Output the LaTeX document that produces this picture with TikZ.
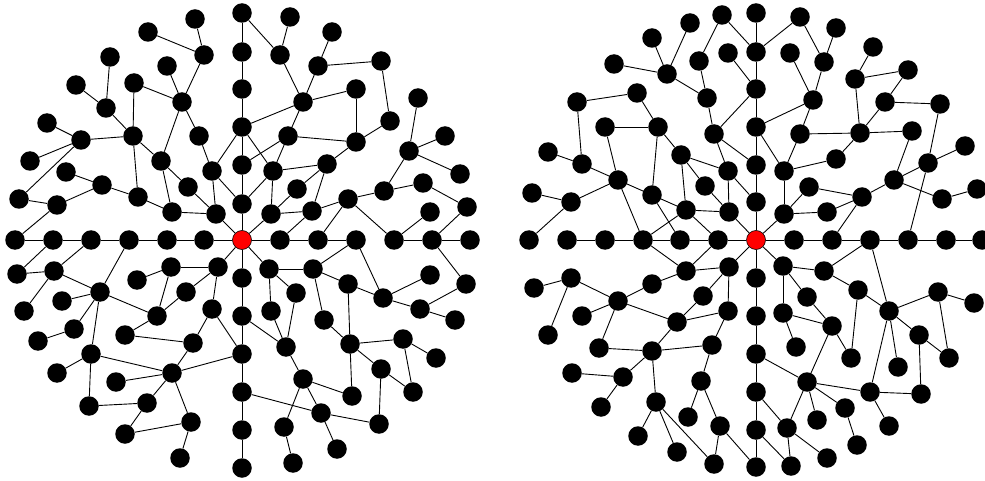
\documentclass[tikz,border=0pt]{standalone}
\usetikzlibrary{backgrounds}
\tikzset{
  dot/.style={circle, fill=black, inner sep=0pt, minimum size=19.5pt},
  rootdot/.style={circle, fill=red, draw=black, line width=0.6pt, inner sep=0pt, minimum size=19pt},
  edge/.style={draw=black, line width=0.9pt}
}
\begin{document}
\begin{tikzpicture}[x=1pt, y=-1pt]
\useasboundingbox (0,0) rectangle (985,481);
% ---------------- left tree ----------------
\node[rootdot] (L242y240) at (242,240) {};
\foreach \x/\y in {
 242/13, 242/52, 242/89, 242/127, 242/165, 242/204,
 242/278, 242/316, 242/354, 242/392, 242/430, 242/468,
 15/240, 53/240, 91/240, 129/240, 167/240, 204/240,
 280/240, 318/240, 356/240, 394/240, 432/240, 470/240,
 195/19, 148/32, 204/55, 110/57, 167/66, 134/83, 76/85, 182/102, 106/108, 47/123, 133/136, 199/136,
 81/140, 30/161, 161/161, 212/171, 66/172, 102/185, 188/187, 138/197, 19/199, 57/205, 172/212, 216/214,
 290/17, 332/32, 280/55, 318/66, 381/61, 303/102, 356/89, 418/98, 390/121, 288/136, 356/142, 445/136,
 409/151, 273/171, 327/164, 460/174, 297/189, 423/183, 384/191, 348/199, 271/214, 312/211, 430/212, 467/207,
 17/274, 54/271, 137/280, 171/267, 218/267, 100/292, 62/301, 186/292, 24/311, 157/316, 212/309, 74/329,
 38/341, 125/335, 193/343, 91/354, 57/373, 172/373, 116/382, 89/406, 147/403, 191/422, 125/434, 180/458,
 269/269, 313/269, 296/293, 348/284, 430/275, 466/284, 383/298, 420/309, 271/311, 324/320, 455/320, 286/347,
 350/344, 403/339, 436/358, 381/369, 303/379, 352/396, 413/392, 321/413, 379/424, 284/427, 337/449, 293/463}
 \node[dot] (L\x y\y) at (\x,\y) {};
% ---------------- right tree ----------------
\node[rootdot] (R756y240) at (756,240) {};
\foreach \x/\y in {
 756/13, 756/52, 756/89, 756/127, 756/165, 756/202,
 756/278, 756/316, 756/354, 756/392, 756/430, 756/467,
 529/240, 567/240, 605/240, 643/240, 680/240, 718/240,
 794/240, 832/240, 870/240, 908/240, 946/240, 982/240,
 722/15, 690/23, 652/38, 728/53, 699/61, 614/64, 667/74, 637/93, 577/102, 707/98, 605/127, 658/127,
 714/134, 548/152, 681/155, 582/164, 728/171, 618/180, 705/186, 532/193, 571/202, 652/195, 686/210, 729/212,
 800/17, 836/28, 790/53, 824/62, 873/47, 908/70, 855/79, 813/100, 885/102, 940/104, 800/134, 860/133,
 912/131, 965/146, 784/171, 836/159, 928/163, 894/180, 809/187, 862/197, 942/199, 977/189, 784/214, 827/212,
 534/288, 571/278, 686/271, 729/267, 652/284, 618/301, 582/316, 703/296, 677/322, 728/311, 548/335, 599/348,
 652/351, 712/345, 572/373, 623/377, 701/381, 656/402, 601/407, 688/417, 720/426, 638/436, 677/452, 714/464,
 783/266, 824/271, 858/290, 807/297, 938/292, 974/303, 889/311, 783/313, 832/326, 919/335, 796/347, 851/358,
 949/358, 898/367, 807/382, 870/392, 921/394, 845/408, 817/420, 889/426, 787/428, 857/445, 827/458, 791/466}
 \node[dot] (R\x y\y) at (\x,\y) {};
% ---------------- edges ----------------
\begin{pgfonlayer}{background}
\foreach \a/\b/\c/\d in {
 242/240/242/204, 242/204/242/165, 242/165/242/127, 242/127/242/89, 242/89/242/52, 242/52/242/13,
 242/240/242/278, 242/278/242/316, 242/316/242/354, 242/354/242/392, 242/392/242/430, 242/430/242/468,
 242/240/204/240, 204/240/167/240, 167/240/129/240, 129/240/91/240, 91/240/53/240, 53/240/15/240,
 242/240/280/240, 280/240/318/240, 318/240/356/240, 394/240/432/240, 432/240/470/240,
 195/19/204/55, 148/32/204/55, 204/55/182/102, 167/66/182/102, 134/83/182/102, 182/102/161/161,
 182/102/199/136, 199/136/212/171, 212/171/242/127, 212/171/216/214, 212/171/242/204, 216/214/242/240,
 172/212/216/214, 188/187/216/214, 161/161/188/187, 161/161/172/212, 138/197/172/212, 133/136/138/197,
 133/136/161/161, 134/83/133/136, 110/57/106/108, 76/85/106/108, 106/108/133/136, 81/140/133/136,
 47/123/81/140, 30/161/81/140, 81/140/19/199, 19/199/57/205, 57/205/15/240, 57/205/102/185,
 66/172/102/185, 102/185/138/197,
 242/13/280/55, 290/17/280/55, 280/55/303/102, 332/32/318/66, 318/66/381/61, 318/66/303/102,
 381/61/390/121, 303/102/356/89, 303/102/242/127, 303/102/288/136, 356/89/356/142, 390/121/356/142,
 288/136/356/142, 242/127/273/171, 288/136/242/165, 288/136/273/171, 356/142/327/164, 273/171/327/164,
 327/164/312/211, 327/164/297/189, 297/189/271/214, 273/171/271/214, 242/204/273/171, 271/214/242/240,
 271/214/312/211, 312/211/280/240, 312/211/348/199, 348/199/318/240, 348/199/384/191, 348/199/394/240,
 384/191/409/151, 384/191/423/183, 409/151/418/98, 409/151/445/136, 409/151/460/174, 423/183/467/207,
 467/207/432/240, 430/212/394/240,
 53/240/17/274, 17/274/54/271, 54/271/91/240, 54/271/24/311, 54/271/100/292, 100/292/129/240,
 62/301/100/292, 100/292/74/329, 74/329/38/341, 100/292/91/354, 100/292/157/316, 137/280/171/267,
 171/267/218/267, 171/267/157/316, 186/292/218/267, 186/292/157/316, 218/267/242/240, 218/267/212/309,
 212/309/193/343, 212/309/242/354, 157/316/125/335, 125/335/193/343, 193/343/172/373, 91/354/57/373,
 91/354/172/373, 91/354/89/406, 172/373/242/354, 116/382/172/373, 172/373/147/403, 172/373/191/422,
 89/406/147/403, 147/403/125/434, 125/434/191/422, 191/422/180/458,
 242/240/269/269, 269/269/313/269, 313/269/356/240, 313/269/348/284, 313/269/324/320, 348/284/383/298,
 356/240/383/298, 383/298/430/275, 383/298/420/309, 420/309/466/284, 466/284/432/240, 420/309/455/320,
 269/269/271/311, 269/269/296/293, 271/311/286/347, 296/293/286/347, 242/316/286/347, 286/347/303/379,
 324/320/350/344, 348/284/350/344, 350/344/403/339, 350/344/381/369, 350/344/352/396, 403/339/436/358,
 403/339/413/392, 381/369/413/392, 381/369/379/424, 303/379/352/396, 303/379/284/427, 303/379/321/413,
 242/392/321/413, 321/413/379/424, 321/413/337/449, 284/427/293/463}
 \draw[edge] (L\a y\b) -- (L\c y\d);
\foreach \a/\b/\c/\d in {
 756/240/756/202, 756/202/756/165, 756/165/756/127, 756/127/756/89, 756/89/756/52, 756/52/756/13,
 756/240/756/278, 756/278/756/316, 756/316/756/354, 756/354/756/392, 756/392/756/430, 756/430/756/467,
 756/240/718/240, 718/240/680/240, 680/240/643/240, 643/240/605/240, 605/240/567/240,
 756/240/794/240, 794/240/832/240, 832/240/870/240, 870/240/908/240, 908/240/946/240, 946/240/982/240,
 722/15/756/52, 722/15/699/61, 690/23/667/74, 652/38/667/74, 614/64/667/74, 667/74/707/98,
 699/61/707/98, 728/53/756/89, 707/98/714/134, 756/89/714/134, 714/134/728/171, 714/134/756/165,
 637/93/577/102, 637/93/658/127, 577/102/582/164, 605/127/658/127, 605/127/618/180, 658/127/652/195,
 658/127/681/155, 681/155/728/171, 681/155/705/186, 681/155/686/210, 548/152/582/164, 582/164/618/180,
 618/180/571/202, 618/180/652/195, 618/180/643/240, 532/193/571/202, 571/202/529/240, 652/195/686/210,
 652/195/680/240, 686/210/643/240, 686/210/729/212, 686/210/718/240, 705/186/729/212, 728/171/729/212,
 728/171/756/202, 729/212/756/240,
 756/52/800/17, 800/17/824/62, 836/28/824/62, 824/62/813/100, 790/53/813/100, 813/100/756/127,
 813/100/800/134, 800/134/860/133, 800/134/784/171, 756/127/784/171, 873/47/855/79, 855/79/908/70,
 908/70/885/102, 855/79/860/133, 885/102/860/133, 885/102/940/104, 860/133/912/131, 860/133/836/159,
 836/159/784/171, 784/171/784/214, 809/187/784/214, 809/187/862/197, 784/214/827/212, 827/212/862/197,
 862/197/832/240, 862/197/894/180, 894/180/912/131, 894/180/928/163, 894/180/942/199, 942/199/977/189,
 928/163/965/146, 928/163/940/104, 928/163/908/240, 784/214/756/240,
 643/240/686/271, 718/240/686/271, 686/271/729/267, 729/267/756/240, 686/271/652/284, 652/284/618/301,
 571/278/618/301, 534/288/571/278, 571/278/548/335, 582/316/618/301, 618/301/677/322, 618/301/599/348,
 729/267/703/296, 729/267/728/311, 703/296/677/322, 677/322/728/311, 677/322/652/351, 599/348/652/351,
 652/351/712/345, 728/311/712/345, 712/345/701/381, 652/351/623/377, 572/373/623/377, 623/377/601/407,
 652/351/656/402, 656/402/638/436, 656/402/677/452, 656/402/714/464, 701/381/688/417, 701/381/720/426,
 720/426/714/464, 720/426/756/467,
 756/240/783/266, 783/266/824/271, 824/271/870/240, 824/271/858/290, 858/290/889/311, 870/240/889/311,
 889/311/938/292, 938/292/974/303, 938/292/949/358, 889/311/919/335, 919/335/949/358, 919/335/921/394,
 889/311/898/367, 889/311/870/392, 870/392/921/394, 870/392/889/426, 870/392/807/382, 858/290/851/358,
 783/266/783/313, 783/266/807/297, 807/297/832/326, 783/313/832/326, 783/313/796/347, 832/326/851/358,
 832/326/807/382, 756/354/807/382, 807/382/845/408, 845/408/857/445, 807/382/817/420, 807/382/787/428,
 756/392/787/428, 787/428/791/466, 787/428/827/458, 756/430/791/466}
 \draw[edge] (R\a y\b) -- (R\c y\d);
\end{pgfonlayer}
\end{tikzpicture}
\end{document}
